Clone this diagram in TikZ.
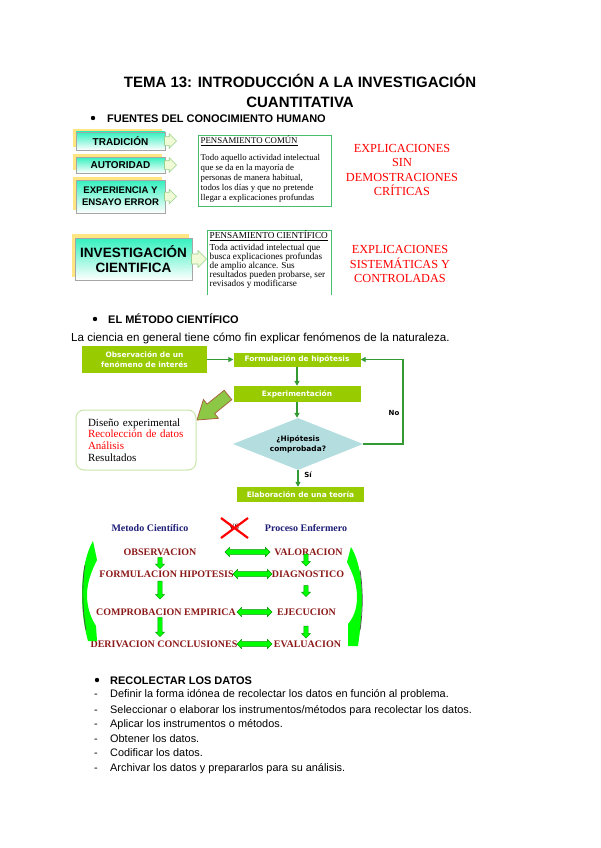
\documentclass[tikz,border=0pt]{standalone}
\usepackage{fontspec}
\setmainfont{Liberation Sans}
\newfontfamily\serif{Liberation Serif}
\newfontfamily\dvs{DejaVu Sans}
\usetikzlibrary{shapes.geometric,shapes.arrows,arrows.meta,shadows,calc}
\definecolor{flowgreen}{RGB}{153,204,0}
\definecolor{lineg}{RGB}{51,153,51}
\definecolor{diablue}{RGB}{180,221,224}
\definecolor{tealc}{RGB}{51,240,190}
\definecolor{shyellow}{RGB}{255,230,130}
\definecolor{boxgreen}{RGB}{70,190,110}
\definecolor{navy}{RGB}{30,30,120}
\definecolor{dred}{RGB}{140,25,25}
\definecolor{bgreen}{RGB}{0,255,0}
\definecolor{bgreenedge}{RGB}{0,150,0}
\definecolor{bigarrow}{RGB}{140,200,70}
\definecolor{brownedge}{RGB}{170,100,60}
\definecolor{softgreen}{RGB}{200,230,170}
\definecolor{chevfill}{RGB}{240,250,215}
\definecolor{chevedge}{RGB}{150,210,140}
\begin{document}
\begin{tikzpicture}[x=1pt,y=-1pt,
  srcbox/.style={draw=gray!70, line width=0.4pt, top color=tealc, bottom color=white,
    drop shadow={shadow xshift=-3pt,shadow yshift=3pt,fill=shyellow,opacity=1},
    font=\bfseries\fontsize{10}{11}\selectfont, align=center, inner sep=0pt},
  chev/.style={single arrow, draw=chevedge, fill=chevfill, line width=0.6pt,
    minimum height=12pt, minimum width=14pt, single arrow head extend=3pt, inner xsep=0pt, inner ysep=4pt, anchor=west},
  txtbox/.style={draw=boxgreen, line width=0.8pt, inner sep=0pt},
  smalltxt/.style={font=\serif\fontsize{8.8}{10}\selectfont, anchor=west, inner sep=0pt},
  redtxt/.style={font=\serif\fontsize{12.3}{14}\selectfont, text=red, anchor=base, inner sep=0pt},
  fbox/.style={fill=flowgreen, text=white, font=\dvs\bfseries\fontsize{7.4}{10}\selectfont,
    align=center, inner sep=0pt},
  flowarr/.style={draw=lineg, line width=1.2pt, -{Triangle[length=5pt,width=5pt]}},
  mhead/.style={font=\serif\bfseries\fontsize{10}{11}\selectfont, text=navy, inner sep=0pt},
  mrow/.style={font=\serif\bfseries\fontsize{10}{11}\selectfont, text=dred, inner sep=0pt},
  dbl/.style={double arrow, fill=bgreen, draw=bgreenedge, line width=0.4pt, inner xsep=0pt, inner ysep=2.2pt,
    double arrow head extend=2.3pt, minimum height=#1},
  darr/.style={single arrow, fill=bgreen, draw=bgreenedge, line width=0.4pt, inner xsep=0pt, inner ysep=2pt,
    single arrow head extend=2.3pt, rotate=-90, minimum height=#1},
  body/.style={font=\fontsize{10.9}{12}\selectfont, anchor=base west, inner sep=0pt},
  head/.style={font=\bfseries\fontsize{11}{12}\selectfont, anchor=base west, inner sep=0pt},
  ttl/.style={font=\bfseries\fontsize{15}{16}\selectfont, anchor=base, inner sep=0pt}
]
\useasboundingbox (0,0) rectangle (600,848);
\fill[white] (0,0) rectangle (600,848);

% Title
\node[ttl] (t1) at (300,87.5) {TEMA 13: INTRODUCCIÓN A LA INVESTIGACIÓN};
\node[ttl] (t2) at (300,107.5) {CUANTITATIVA};

% Section 1
\fill (93,118) circle (2.2);
\node[head] (h1) at (107,122) {FUENTES DEL CONOCIMIENTO HUMANO};

\node[srcbox, minimum width=89pt, minimum height=18pt] (trad) at (120.5,141) {TRADICIÓN};
\node[chev] (ctrad) at ([xshift=-1pt]trad.east) {};
\node[srcbox, minimum width=89pt, minimum height=16pt] (auto) at (120.5,165) {AUTORIDAD};
\node[chev] (cauto) at ([xshift=-1pt]auto.east) {};
\node[srcbox, minimum width=89pt, minimum height=33pt, font=\bfseries\fontsize{9.6}{11}\selectfont] (expe) at (120.5,196.5) {EXPERIENCIA Y\\[1pt]ENSAYO ERROR};
\node[chev] (cexpe) at ([xshift=-1pt]expe.east) {};

\node[txtbox, minimum width=133pt, minimum height=71pt] (pcbox) at (264.5,170.5) {};
\node[smalltxt] (pctitle) at (200.5,141) {\underline{PENSAMIENTO COMÚN}};
\node[smalltxt, align=left, anchor=north west] (pctext) at (200.5,154.5) {Todo aquello actividad intelectual\\que se da en la mayoría de\\personas de manera habitual,\\todos los días y que no pretende\\llegar a explicaciones profundas};

\node[redtxt] (r1) at (402,152) {EXPLICACIONES};
\node[redtxt] (r2) at (402,166) {SIN};
\node[redtxt] (r3) at (402,181) {DEMOSTRACIONES};
\node[redtxt] (r4) at (402,195) {CRÍTICAS};

\node[srcbox, minimum width=117pt, minimum height=42pt, font=\bfseries\fontsize{13.5}{15}\selectfont,
  drop shadow={shadow xshift=-3pt,shadow yshift=4pt,fill=shyellow,opacity=1}] (inv) at (133.5,259) {INVESTIGACIÓN\\[0pt]CIENTIFICA};
\node[chev, minimum height=15pt, minimum width=17pt] (cinv) at ([xshift=-1pt]inv.east) {};

\draw[boxgreen, line width=0.8pt] (207,295) -- (207,230) -- (331,230) -- (331,295);
\node[smalltxt, font=\serif\fontsize{9.2}{9}\selectfont] (pstitle) at (209.5,236) {\underline{PENSAMIENTO CIENTÍFICO}};
\node[smalltxt, font=\serif\fontsize{9.2}{9}\selectfont, align=left, anchor=north west] (pstext) at (209.5,244) {Toda actividad intelectual que\\busca explicaciones profundas\\de amplio alcance. Sus\\resultados pueden probarse, ser\\revisados y modificarse};

\node[redtxt] (s1) at (400,253) {EXPLICACIONES};
\node[redtxt] (s2) at (400,268) {SISTEMÁTICAS Y};
\node[redtxt] (s3) at (400,282) {CONTROLADAS};

% Section 2
\fill (95,319) circle (2.2);
\node[head] (h2) at (108,323) {EL MÉTODO CIENTÍFICO};
\node[body, font=\fontsize{11.6}{13}\selectfont] (intro) at (71,341) {La ciencia en general tiene cómo fin explicar fenómenos de la naturaleza.};

\node[fbox, minimum width=125pt, minimum height=27pt] (obs) at (144.5,359.5) {Observación de un\\fenómeno de interés};
\node[fbox, minimum width=127pt, minimum height=14pt] (form) at (297,359.5) {Formulación de hipótesis};
\node[fbox, minimum width=127pt, minimum height=16pt] (expm) at (297,394) {Experimentación};
\node[diamond, fill=diablue, minimum width=130pt, minimum height=52pt, inner sep=0pt, aspect=2.5,
  font=\dvs\bfseries\fontsize{7.4}{10}\selectfont, align=center] (dia) at (298,444) {¿Hipótesis\\comprobada?};
\node[fbox, minimum width=127pt, minimum height=15pt] (elab) at (300.5,494.5) {Elaboración de una teoría};

\draw[flowarr] (obs.east) -- (form.west);
\draw[flowarr] (form.south) -- (expm.north);
\draw[flowarr] (expm.south) -- (expm.south |- dia.north);
\coordinate (loopc) at (403,444);
\draw[flowarr] (dia.east) -- (loopc) |- (form.east);
\draw[flowarr] (dia.south) -- (dia.south |- elab.north);
\node[font=\dvs\bfseries\fontsize{7}{9}\selectfont] (no) at (394,413) {No};
\node[font=\dvs\bfseries\fontsize{7}{9}\selectfont] (si) at (308,475) {Sí};

% big arrow
\filldraw[fill=bigarrow, draw=brownedge, line width=0.8pt]
  (224.2,390.3) -- (231.8,399.7) -- (214.7,413.5) -- (218.4,418.3) -- (197,420)
  -- (203.4,399.5) -- (207.1,404.1) -- cycle;

\node[draw=softgreen, rounded corners=8pt, line width=1pt, minimum width=120pt, minimum height=60pt,
  text width=96pt, inner xsep=12pt, align=left, font=\serif\fontsize{11}{11.8}\selectfont] (res) at (136,440)
  {Diseño experimental\\\textcolor{red}{Recolección de datos}\\\textcolor{red}{Análisis}\\Resultados};

% Method comparison
\node[mhead] (mc) at (150,528) {Metodo Científico};
\node[mhead] (pe) at (306,528) {Proceso Enfermero};
\node[font=\serif\bfseries\fontsize{8}{9}\selectfont, text=dred!60!black] (vs) at (234,527) {VS};
\draw[red, line width=2.2pt] (221,518) -- (248,538);
\draw[red, line width=2.2pt] (248,518) -- (221,538);

\node[mrow] (m1) at (160,552) {OBSERVACION};
\node[mrow] (p1) at (308.5,552) {VALORACION};
\node[mrow] (m2) at (166.5,574) {FORMULACION HIPOTESIS};
\node[mrow] (p2) at (308,574) {DIAGNOSTICO};
\node[mrow] (m3) at (166,612) {COMPROBACION EMPIRICA};
\node[mrow] (p3) at (306.5,612) {EJECUCION};
\node[mrow] (m4) at (164,644) {DERIVACION CONCLUSIONES};
\node[mrow] (p4) at (307.5,644) {EVALUACION};

\node[dbl=45pt] (d1) at (247.5,552) {};
\node[dbl=39pt] (d2) at (252.5,574) {};
\node[dbl=35pt] (d3) at (254.5,612) {};
\node[dbl=35pt] (d4) at (254.5,644) {};

\node[darr=11pt] (a1) at (160,562) {};
\node[darr=18pt] (a2) at (160,589) {};
\node[darr=19pt] (a3) at (160,626) {};
\node[darr=12pt] (b1) at (306,559) {};
\node[darr=11pt] (b2) at (306,590) {};
\node[darr=12pt] (b3) at (306,631) {};

% curved side arrows
\fill[bgreen] (93,541) .. controls (85,555) and (82,575) .. (82,595) .. controls (82,615) and (85,630) .. (88,641)
  -- (97,641) -- (96,626) .. controls (91,618) and (87,608) .. (87,595) .. controls (87,582) and (92,570) .. (97,560) -- cycle;
\draw[black!70, line width=0.7pt] (85,565) .. controls (82,580) and (82,610) .. (86,630);
\fill[bgreen] (351,547) .. controls (359,560) and (362,580) .. (362,597) .. controls (362,615) and (360,632) .. (358,646)
  -- (348,646) -- (348,624) .. controls (353,618) and (357,610) .. (357,597) .. controls (357,583) and (352,572) .. (347,562) -- cycle;
\draw[black!70, line width=0.7pt] (360,570) .. controls (363,590) and (363,610) .. (360,630);

% Section 3
\fill (97,680) circle (2.2);
\node[head] (h3) at (110,684) {RECOLECTAR LOS DATOS};
\foreach \yy/\txt [count=\i] in {697/{Definir la forma idónea de recolectar los datos en función al problema.},
  713/{Seleccionar o elaborar los instrumentos/métodos para recolectar los datos.},
  727/{Aplicar los instrumentos o métodos.},
  742/{Obtener los datos.},
  756/{Codificar los datos.},
  771/{Archivar los datos y prepararlos para su análisis.}}{
  \node[body] (item\i) at (94,\yy) {\makebox[16pt][l]{-}\txt};
}
\end{tikzpicture}
\end{document}
